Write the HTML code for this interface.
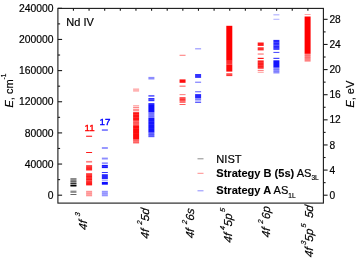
<!DOCTYPE html><html><head><meta charset="utf-8"><title>Nd IV</title>
<style>html,body{margin:0;padding:0;background:#fff}body{width:357px;height:258px;overflow:hidden}svg{display:block}text{font-family:"Liberation Sans",Arial,sans-serif;fill:#000;stroke:#000;stroke-width:.18px}</style></head><body>
<svg width="357" height="258" viewBox="0 0 357 258">
<rect width="357" height="258" fill="#fff"/>
<rect x="70.45" y="178.20" width="6.0" height="1.00" fill="#000" fill-opacity="0.35"/>
<rect x="70.45" y="179.60" width="6.0" height="1.00" fill="#000" fill-opacity="0.50"/>
<rect x="70.45" y="181.30" width="6.0" height="1.00" fill="#000" fill-opacity="0.65"/>
<rect x="70.45" y="183.10" width="6.0" height="1.00" fill="#000" fill-opacity="0.80"/>
<rect x="70.45" y="184.90" width="6.0" height="1.60" fill="#000" fill-opacity="1.00"/>
<rect x="70.45" y="178.00" width="6.0" height="8.00" fill="#000" fill-opacity="0.25"/>
<rect x="70.45" y="190.60" width="6.0" height="2.30" fill="#000" fill-opacity="0.45"/>
<rect x="70.45" y="194.10" width="6.0" height="0.80" fill="#000" fill-opacity="0.75"/>
<rect x="86.10" y="135.70" width="6.0" height="1.10" fill="#ff0000" fill-opacity="0.90"/>
<rect x="86.10" y="152.00" width="6.0" height="1.00" fill="#ff0000" fill-opacity="0.90"/>
<rect x="86.10" y="160.90" width="6.0" height="1.70" fill="#ff0000" fill-opacity="0.50"/>
<rect x="86.10" y="165.20" width="6.0" height="5.30" fill="#ff0000" fill-opacity="0.85"/>
<rect x="86.10" y="166.50" width="6.0" height="0.70" fill="#fff" fill-opacity="0.20"/>
<rect x="86.10" y="173.10" width="6.0" height="0.90" fill="#ff0000" fill-opacity="0.40"/>
<rect x="86.10" y="173.50" width="6.0" height="11.90" fill="#ff0000" fill-opacity="0.90"/>
<rect x="86.10" y="174.60" width="6.0" height="0.70" fill="#fff" fill-opacity="0.35"/>
<rect x="86.10" y="177.70" width="6.0" height="0.60" fill="#fff" fill-opacity="0.30"/>
<rect x="86.10" y="180.20" width="6.0" height="0.60" fill="#fff" fill-opacity="0.35"/>
<rect x="86.10" y="181.60" width="6.0" height="0.60" fill="#fff" fill-opacity="0.25"/>
<rect x="86.10" y="190.80" width="6.0" height="5.50" fill="#ff0000" fill-opacity="0.42"/>
<rect x="86.10" y="192.10" width="6.0" height="0.50" fill="#fff" fill-opacity="0.30"/>
<rect x="86.10" y="194.10" width="6.0" height="0.50" fill="#fff" fill-opacity="0.30"/>
<rect x="101.85" y="129.30" width="6.0" height="1.50" fill="#0000ff" fill-opacity="0.60"/>
<rect x="101.85" y="147.50" width="6.0" height="1.00" fill="#0000ff" fill-opacity="0.80"/>
<rect x="101.85" y="157.60" width="6.0" height="1.90" fill="#0000ff" fill-opacity="0.45"/>
<rect x="101.85" y="162.60" width="6.0" height="1.00" fill="#0000ff" fill-opacity="0.70"/>
<rect x="101.85" y="164.90" width="6.0" height="3.20" fill="#0000ff" fill-opacity="0.90"/>
<rect x="101.85" y="166.20" width="6.0" height="0.60" fill="#fff" fill-opacity="0.20"/>
<rect x="101.85" y="172.00" width="6.0" height="1.00" fill="#0000ff" fill-opacity="0.80"/>
<rect x="101.85" y="174.20" width="6.0" height="4.90" fill="#0000ff" fill-opacity="0.85"/>
<rect x="101.85" y="179.80" width="6.0" height="0.80" fill="#0000ff" fill-opacity="0.50"/>
<rect x="101.85" y="181.90" width="6.0" height="2.80" fill="#0000ff" fill-opacity="0.95"/>
<rect x="101.85" y="190.80" width="6.0" height="5.50" fill="#0000ff" fill-opacity="0.42"/>
<rect x="101.85" y="192.10" width="6.0" height="0.50" fill="#fff" fill-opacity="0.30"/>
<rect x="101.85" y="194.10" width="6.0" height="0.50" fill="#fff" fill-opacity="0.30"/>
<rect x="133.10" y="88.40" width="6.0" height="3.30" fill="#ff0000" fill-opacity="0.30"/>
<rect x="133.10" y="105.50" width="6.0" height="0.80" fill="#ff0000" fill-opacity="0.60"/>
<rect x="133.10" y="107.20" width="6.0" height="0.80" fill="#ff0000" fill-opacity="0.60"/>
<rect x="133.10" y="108.80" width="6.0" height="0.80" fill="#ff0000" fill-opacity="0.70"/>
<rect x="133.10" y="110.40" width="6.0" height="0.80" fill="#ff0000" fill-opacity="0.70"/>
<rect x="133.10" y="112.20" width="6.0" height="8.60" fill="#ff0000" fill-opacity="0.92"/>
<rect x="133.10" y="114.50" width="6.0" height="0.50" fill="#fff" fill-opacity="0.20"/>
<rect x="133.10" y="117.50" width="6.0" height="0.50" fill="#fff" fill-opacity="0.20"/>
<rect x="133.10" y="121.00" width="6.0" height="4.00" fill="#ff0000" fill-opacity="0.60"/>
<rect x="133.10" y="122.00" width="6.0" height="0.60" fill="#ff0000" fill-opacity="0.30"/>
<rect x="133.10" y="123.60" width="6.0" height="0.60" fill="#ff0000" fill-opacity="0.30"/>
<rect x="133.10" y="125.20" width="6.0" height="14.40" fill="#ff0000" fill-opacity="0.95"/>
<rect x="133.10" y="128.00" width="6.0" height="0.50" fill="#fff" fill-opacity="0.15"/>
<rect x="133.10" y="133.00" width="6.0" height="0.40" fill="#fff" fill-opacity="0.10"/>
<rect x="133.10" y="139.60" width="6.0" height="3.90" fill="#ff0000" fill-opacity="0.55"/>
<rect x="133.10" y="140.50" width="6.0" height="0.50" fill="#ff0000" fill-opacity="0.30"/>
<rect x="133.10" y="142.00" width="6.0" height="0.50" fill="#ff0000" fill-opacity="0.30"/>
<rect x="148.40" y="76.90" width="6.0" height="2.60" fill="#0000ff" fill-opacity="0.45"/>
<rect x="148.40" y="95.20" width="6.0" height="1.40" fill="#0000ff" fill-opacity="0.75"/>
<rect x="148.40" y="98.00" width="6.0" height="3.20" fill="#0000ff" fill-opacity="0.80"/>
<rect x="148.40" y="99.30" width="6.0" height="0.50" fill="#fff" fill-opacity="0.30"/>
<rect x="148.40" y="103.20" width="6.0" height="9.20" fill="#0000ff" fill-opacity="0.95"/>
<rect x="148.40" y="104.30" width="6.0" height="0.50" fill="#fff" fill-opacity="0.20"/>
<rect x="148.40" y="112.40" width="6.0" height="5.40" fill="#0000ff" fill-opacity="0.50"/>
<rect x="148.40" y="113.60" width="6.0" height="0.60" fill="#0000ff" fill-opacity="0.30"/>
<rect x="148.40" y="115.80" width="6.0" height="0.60" fill="#0000ff" fill-opacity="0.30"/>
<rect x="148.40" y="117.80" width="6.0" height="14.80" fill="#0000ff" fill-opacity="0.92"/>
<rect x="148.40" y="121.00" width="6.0" height="0.50" fill="#fff" fill-opacity="0.15"/>
<rect x="148.40" y="124.50" width="6.0" height="0.50" fill="#fff" fill-opacity="0.15"/>
<rect x="148.40" y="128.00" width="6.0" height="0.40" fill="#fff" fill-opacity="0.10"/>
<rect x="148.40" y="132.60" width="6.0" height="4.60" fill="#0000ff" fill-opacity="0.60"/>
<rect x="148.40" y="134.00" width="6.0" height="0.50" fill="#0000ff" fill-opacity="0.30"/>
<rect x="148.40" y="136.00" width="6.0" height="0.50" fill="#0000ff" fill-opacity="0.25"/>
<rect x="179.55" y="54.80" width="6.0" height="0.90" fill="#ff0000" fill-opacity="0.60"/>
<rect x="179.55" y="79.40" width="6.0" height="3.40" fill="#ff0000" fill-opacity="0.95"/>
<rect x="179.55" y="85.00" width="6.0" height="0.80" fill="#ff0000" fill-opacity="0.30"/>
<rect x="179.55" y="86.00" width="6.0" height="0.80" fill="#ff0000" fill-opacity="0.55"/>
<rect x="179.55" y="94.30" width="6.0" height="0.80" fill="#ff0000" fill-opacity="0.65"/>
<rect x="179.55" y="97.20" width="6.0" height="4.50" fill="#ff0000" fill-opacity="0.80"/>
<rect x="179.55" y="98.40" width="6.0" height="0.50" fill="#fff" fill-opacity="0.30"/>
<rect x="179.55" y="100.00" width="6.0" height="0.50" fill="#fff" fill-opacity="0.30"/>
<rect x="179.55" y="102.30" width="6.0" height="0.70" fill="#ff0000" fill-opacity="0.80"/>
<rect x="179.55" y="104.20" width="6.0" height="0.80" fill="#ff0000" fill-opacity="0.80"/>
<rect x="195.10" y="48.20" width="6.0" height="1.20" fill="#0000ff" fill-opacity="0.40"/>
<rect x="195.10" y="74.00" width="6.0" height="3.90" fill="#0000ff" fill-opacity="0.80"/>
<rect x="195.10" y="81.70" width="6.0" height="1.00" fill="#0000ff" fill-opacity="0.60"/>
<rect x="195.10" y="91.20" width="6.0" height="1.10" fill="#0000ff" fill-opacity="0.60"/>
<rect x="195.10" y="94.10" width="6.0" height="3.90" fill="#0000ff" fill-opacity="0.85"/>
<rect x="195.10" y="98.00" width="6.0" height="2.60" fill="#0000ff" fill-opacity="0.45"/>
<rect x="195.10" y="99.00" width="6.0" height="0.50" fill="#0000ff" fill-opacity="0.20"/>
<rect x="195.10" y="101.70" width="6.0" height="1.00" fill="#0000ff" fill-opacity="0.90"/>
<rect x="226.30" y="25.80" width="6.0" height="35.00" fill="#ff0000" fill-opacity="1.00"/>
<rect x="226.30" y="60.80" width="6.0" height="3.90" fill="#ff0000" fill-opacity="0.85"/>
<rect x="226.30" y="61.80" width="6.0" height="0.50" fill="#fff" fill-opacity="0.12"/>
<rect x="226.30" y="63.30" width="6.0" height="0.50" fill="#fff" fill-opacity="0.12"/>
<rect x="226.30" y="64.70" width="6.0" height="6.90" fill="#ff0000" fill-opacity="0.97"/>
<rect x="226.30" y="73.30" width="6.0" height="2.80" fill="#ff0000" fill-opacity="0.80"/>
<rect x="226.30" y="74.40" width="6.0" height="0.50" fill="#fff" fill-opacity="0.25"/>
<rect x="257.70" y="42.50" width="6.0" height="3.40" fill="#ff0000" fill-opacity="0.90"/>
<rect x="257.70" y="47.30" width="6.0" height="3.10" fill="#ff0000" fill-opacity="0.85"/>
<rect x="257.70" y="48.70" width="6.0" height="0.40" fill="#fff" fill-opacity="0.20"/>
<rect x="257.70" y="53.30" width="6.0" height="1.50" fill="#ff0000" fill-opacity="0.42"/>
<rect x="257.70" y="57.80" width="6.0" height="1.20" fill="#ff0000" fill-opacity="0.90"/>
<rect x="257.70" y="60.40" width="6.0" height="8.30" fill="#ff0000" fill-opacity="0.88"/>
<rect x="257.70" y="62.50" width="6.0" height="0.50" fill="#fff" fill-opacity="0.20"/>
<rect x="257.70" y="65.00" width="6.0" height="0.50" fill="#fff" fill-opacity="0.20"/>
<rect x="257.70" y="67.00" width="6.0" height="0.40" fill="#fff" fill-opacity="0.20"/>
<rect x="257.70" y="69.90" width="6.0" height="0.90" fill="#ff0000" fill-opacity="0.60"/>
<rect x="257.70" y="71.80" width="6.0" height="0.80" fill="#ff0000" fill-opacity="0.50"/>
<rect x="273.40" y="14.40" width="6.0" height="0.90" fill="#0000ff" fill-opacity="0.40"/>
<rect x="273.40" y="18.80" width="6.0" height="0.90" fill="#0000ff" fill-opacity="0.35"/>
<rect x="273.40" y="39.90" width="6.0" height="9.90" fill="#0000ff" fill-opacity="0.85"/>
<rect x="273.40" y="42.30" width="6.0" height="0.50" fill="#fff" fill-opacity="0.30"/>
<rect x="273.40" y="44.80" width="6.0" height="0.80" fill="#fff" fill-opacity="0.35"/>
<rect x="273.40" y="47.80" width="6.0" height="0.60" fill="#fff" fill-opacity="0.30"/>
<rect x="273.40" y="51.90" width="6.0" height="1.00" fill="#0000ff" fill-opacity="0.75"/>
<rect x="273.40" y="57.80" width="6.0" height="1.10" fill="#0000ff" fill-opacity="0.80"/>
<rect x="273.40" y="60.30" width="6.0" height="7.30" fill="#0000ff" fill-opacity="0.92"/>
<rect x="273.40" y="67.60" width="6.0" height="5.90" fill="#0000ff" fill-opacity="0.45"/>
<rect x="273.40" y="69.00" width="6.0" height="0.50" fill="#0000ff" fill-opacity="0.30"/>
<rect x="273.40" y="71.00" width="6.0" height="0.50" fill="#0000ff" fill-opacity="0.20"/>
<rect x="304.60" y="14.00" width="6.0" height="1.00" fill="#ff0000" fill-opacity="0.35"/>
<rect x="304.60" y="16.50" width="6.0" height="37.30" fill="#ff0000" fill-opacity="1.00"/>
<rect x="304.60" y="53.80" width="6.0" height="7.80" fill="#ff0000" fill-opacity="0.50"/>
<rect x="304.60" y="55.50" width="6.0" height="0.50" fill="#ff0000" fill-opacity="0.25"/>
<rect x="304.60" y="57.50" width="6.0" height="0.50" fill="#ff0000" fill-opacity="0.20"/>
<rect x="304.60" y="59.60" width="6.0" height="0.50" fill="#fff" fill-opacity="0.10"/>
<g stroke="#1a1a1a" stroke-width="1.1" fill="none" shape-rendering="auto">
<rect x="57.9" y="8.4" width="265.50" height="194.70"/>
<line x1="57.9" y1="195.20" x2="62.1" y2="195.20"/>
<line x1="57.9" y1="179.62" x2="60.1" y2="179.62"/>
<line x1="57.9" y1="164.05" x2="62.1" y2="164.05"/>
<line x1="57.9" y1="148.47" x2="60.1" y2="148.47"/>
<line x1="57.9" y1="132.90" x2="62.1" y2="132.90"/>
<line x1="57.9" y1="117.33" x2="60.1" y2="117.33"/>
<line x1="57.9" y1="101.75" x2="62.1" y2="101.75"/>
<line x1="57.9" y1="86.17" x2="60.1" y2="86.17"/>
<line x1="57.9" y1="70.60" x2="62.1" y2="70.60"/>
<line x1="57.9" y1="55.03" x2="60.1" y2="55.03"/>
<line x1="57.9" y1="39.45" x2="62.1" y2="39.45"/>
<line x1="57.9" y1="23.88" x2="60.1" y2="23.88"/>
<line x1="57.9" y1="8.30" x2="62.1" y2="8.30"/>
<line x1="73.43" y1="8.4" x2="73.43" y2="10.8"/>
<line x1="89.06" y1="8.4" x2="89.06" y2="10.8"/>
<line x1="104.69" y1="8.4" x2="104.69" y2="10.8"/>
<line x1="120.32" y1="8.4" x2="120.32" y2="10.8"/>
<line x1="135.95" y1="8.4" x2="135.95" y2="10.8"/>
<line x1="151.58" y1="8.4" x2="151.58" y2="10.8"/>
<line x1="167.21" y1="8.4" x2="167.21" y2="10.8"/>
<line x1="182.84" y1="8.4" x2="182.84" y2="10.8"/>
<line x1="198.47" y1="8.4" x2="198.47" y2="10.8"/>
<line x1="214.10" y1="8.4" x2="214.10" y2="10.8"/>
<line x1="229.73" y1="8.4" x2="229.73" y2="10.8"/>
<line x1="245.36" y1="8.4" x2="245.36" y2="10.8"/>
<line x1="260.99" y1="8.4" x2="260.99" y2="10.8"/>
<line x1="276.62" y1="8.4" x2="276.62" y2="10.8"/>
<line x1="292.25" y1="8.4" x2="292.25" y2="10.8"/>
<line x1="307.88" y1="8.4" x2="307.88" y2="10.8"/>
<line x1="323.4" y1="195.20" x2="327.59999999999997" y2="195.20"/>
<line x1="323.4" y1="182.64" x2="325.59999999999997" y2="182.64"/>
<line x1="323.4" y1="170.08" x2="327.59999999999997" y2="170.08"/>
<line x1="323.4" y1="157.51" x2="325.59999999999997" y2="157.51"/>
<line x1="323.4" y1="144.95" x2="327.59999999999997" y2="144.95"/>
<line x1="323.4" y1="132.39" x2="325.59999999999997" y2="132.39"/>
<line x1="323.4" y1="119.83" x2="327.59999999999997" y2="119.83"/>
<line x1="323.4" y1="107.27" x2="325.59999999999997" y2="107.27"/>
<line x1="323.4" y1="94.70" x2="327.59999999999997" y2="94.70"/>
<line x1="323.4" y1="82.14" x2="325.59999999999997" y2="82.14"/>
<line x1="323.4" y1="69.58" x2="327.59999999999997" y2="69.58"/>
<line x1="323.4" y1="57.02" x2="325.59999999999997" y2="57.02"/>
<line x1="323.4" y1="44.46" x2="327.59999999999997" y2="44.46"/>
<line x1="323.4" y1="31.89" x2="325.59999999999997" y2="31.89"/>
<line x1="323.4" y1="19.33" x2="327.59999999999997" y2="19.33"/>
</g>
<text x="53.6" y="198.85" font-size="10.35" text-anchor="end">0</text>
<text x="53.6" y="167.70" font-size="10.35" text-anchor="end">40000</text>
<text x="53.6" y="136.55" font-size="10.35" text-anchor="end">80000</text>
<text x="53.6" y="105.40" font-size="10.35" text-anchor="end">120000</text>
<text x="53.6" y="74.25" font-size="10.35" text-anchor="end">160000</text>
<text x="53.6" y="43.10" font-size="10.35" text-anchor="end">200000</text>
<text x="53.6" y="11.95" font-size="10.35" text-anchor="end">240000</text>
<text x="329.4" y="198.85" font-size="10.2">0</text>
<text x="329.4" y="173.73" font-size="10.2">4</text>
<text x="329.4" y="148.60" font-size="10.2">8</text>
<text x="329.4" y="123.48" font-size="10.2">12</text>
<text x="329.4" y="98.35" font-size="10.2">16</text>
<text x="329.4" y="73.23" font-size="10.2">20</text>
<text x="329.4" y="48.11" font-size="10.2">24</text>
<text x="329.4" y="22.98" font-size="10.2">28</text>
<text x="66.3" y="25.7" font-size="11">Nd IV</text>
<text x="89.7" y="131.0" font-size="9.8" text-anchor="middle" style="fill:#ff0000;stroke:#ff0000;stroke-width:.35px">11</text>
<text x="104.9" y="125.1" font-size="9.8" text-anchor="middle" style="fill:#0000ff;stroke:#0000ff;stroke-width:.35px">17</text>
<text transform="translate(13.2,107.5) rotate(-90)" font-size="11"><tspan font-style="italic">E</tspan>, cm<tspan font-size="6.5" dy="-7.6">-1</tspan></text>
<text transform="translate(354.2,107.6) rotate(-90)" font-size="11"><tspan font-style="italic">E</tspan>, eV</text>
<rect x="197.5" y="158.3" width="6" height="1" fill="#000" fill-opacity=".45"/>
<rect x="197.5" y="172.8" width="6" height="1" fill="#ff0000" fill-opacity=".45"/>
<rect x="197.5" y="190.3" width="6" height="1" fill="#0000ff" fill-opacity=".45"/>
<text x="216.3" y="162.8" font-size="11.1">NIST</text>
<text x="216.3" y="176.5" font-size="11.05"><tspan font-weight="bold" stroke-width="0.08">Strategy B (5s)</tspan> AS<tspan font-size="6.5" dy="3.8">3L</tspan></text>
<text x="216.3" y="194.2" font-size="11.05"><tspan font-weight="bold" stroke-width="0.08">Strategy A</tspan> AS<tspan font-size="6.5" dy="3.8">1L</tspan></text>
<text transform="translate(86.9,230.2) rotate(-90) skewX(-7)" font-size="11.6" font-style="italic" stroke="#000" stroke-width="0.25"><tspan>4f</tspan><tspan font-size="7.2" dy="-6.9" dx="3.10">3</tspan></text>
<text transform="translate(149.2,239.0) rotate(-90) skewX(-7)" font-size="11.6" font-style="italic" stroke="#000" stroke-width="0.25"><tspan>4f</tspan><tspan font-size="7.2" dy="-6.9" dx="3.80">2</tspan><tspan dy="6.9" dx="0.10">5d</tspan></text>
<text transform="translate(193.8,238.6) rotate(-90) skewX(-7)" font-size="11.6" font-style="italic" stroke="#000" stroke-width="0.25"><tspan>4f</tspan><tspan font-size="7.2" dy="-6.9" dx="3.80">2</tspan><tspan dy="6.9" dx="0.10">6s</tspan></text>
<text transform="translate(231.6,243.0) rotate(-90) skewX(-7)" font-size="11.6" font-style="italic" stroke="#000" stroke-width="0.25"><tspan>4f</tspan><tspan font-size="7.2" dy="-6.9" dx="2.20">4</tspan><tspan dy="6.9" dx="0.50">5p</tspan><tspan font-size="7.2" dy="-6.9" dx="0.60">5</tspan></text>
<text transform="translate(270.2,237.7) rotate(-90) skewX(-7)" font-size="11.6" font-style="italic" stroke="#000" stroke-width="0.25"><tspan>4f</tspan><tspan font-size="7.2" dy="-6.9" dx="3.40">2</tspan><tspan dy="6.9" dx="1.10">6p</tspan></text>
<text transform="translate(312.6,257.5) rotate(-90) skewX(-7)" font-size="11.6" font-style="italic" stroke="#000" stroke-width="0.25"><tspan>4f</tspan><tspan font-size="7.2" dy="-6.9" dx="1.90">3</tspan><tspan dy="6.9" dx="0.00">5p</tspan><tspan font-size="7.2" dy="-6.9" dx="0.40">5</tspan><tspan dy="6.9" dx="3.10"> 5d</tspan></text>
</svg></body></html>
